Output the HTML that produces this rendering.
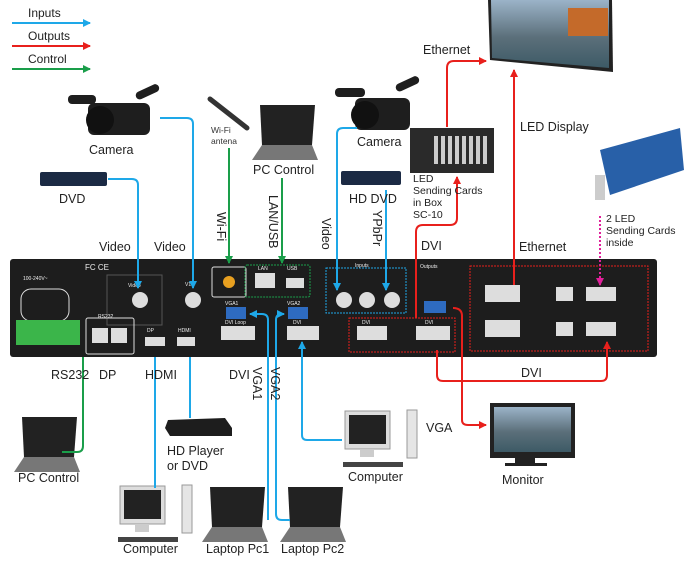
<!DOCTYPE html>
<html><head><meta charset="utf-8"><style>
html,body{margin:0;padding:0;background:#fff;}
svg{display:block;font-family:"Liberation Sans",sans-serif;}
</style></head><body>
<svg width="690" height="565" viewBox="0 0 690 565" xmlns="http://www.w3.org/2000/svg">
<defs>
<marker id="ab" markerWidth="8" markerHeight="8" refX="7" refY="4" orient="auto" markerUnits="userSpaceOnUse"><path d="M0,0 L8,4 L0,8z" fill="#1ea8e8"/></marker>
<marker id="ar" markerWidth="8" markerHeight="8" refX="7" refY="4" orient="auto" markerUnits="userSpaceOnUse"><path d="M0,0 L8,4 L0,8z" fill="#e8201c"/></marker>
<marker id="ag" markerWidth="8" markerHeight="8" refX="7" refY="4" orient="auto" markerUnits="userSpaceOnUse"><path d="M0,0 L8,4 L0,8z" fill="#1a9e4a"/></marker>
<marker id="ap" markerWidth="8" markerHeight="8" refX="7" refY="4" orient="auto" markerUnits="userSpaceOnUse"><path d="M0,0 L8,4 L0,8z" fill="#e0209a"/></marker>
<linearGradient id="sky" x1="0" y1="0" x2="0" y2="1"><stop offset="0" stop-color="#9bb3c8"/><stop offset="0.55" stop-color="#5b6f7a"/><stop offset="1" stop-color="#3d5a66"/></linearGradient>
</defs>
<g font-size="12" fill="#222">
<!-- legend -->
<text x="28" y="17">Inputs</text><text x="28" y="40">Outputs</text><text x="28" y="63">Control</text>
</g>
<g stroke-width="2" fill="none">
<line x1="12" y1="23" x2="90" y2="23" stroke="#1ea8e8" marker-end="url(#ab)"/>
<line x1="12" y1="46" x2="90" y2="46" stroke="#e8201c" marker-end="url(#ar)"/>
<line x1="12" y1="69" x2="90" y2="69" stroke="#1a9e4a" marker-end="url(#ag)"/>
</g>

<!-- cameras -->
<g fill="#1e1e1e">
<rect x="88" y="103" width="62" height="32" rx="6"/><rect x="68" y="95" width="28" height="9" rx="4"/><circle cx="100" cy="120" r="14" fill="#111"/><rect x="135" y="88" width="25" height="8" rx="4" transform="rotate(-25 147 92)"/>
<rect x="355" y="98" width="55" height="32" rx="6"/><rect x="335" y="88" width="30" height="9" rx="4"/><circle cx="365" cy="115" r="14" fill="#111"/><rect x="395" y="80" width="25" height="8" rx="4" transform="rotate(-25 407 84)"/>
</g>
<!-- DVDs -->
<rect x="40" y="172" width="67" height="14" rx="2" fill="#1b2a44"/>
<rect x="341" y="171" width="60" height="14" rx="2" fill="#1b2a44"/>
<!-- antenna -->
<line x1="210" y1="99" x2="247" y2="128" stroke="#333" stroke-width="5" stroke-linecap="round"/>
<!-- laptops -->
<g id="lap">
<polygon points="260,105 315,105 312,145 262,145" fill="#222"/>
<polygon points="262,145 312,145 318,160 252,160" fill="#777"/>
</g>
<use href="#lap" transform="translate(-238,312)"/>
<use href="#lap" transform="translate(-50,382)"/>
<use href="#lap" transform="translate(28,382)"/>
<!-- computers -->
<g id="comp">
<rect x="345" y="411" width="45" height="38" fill="#ddd" stroke="#999"/><rect x="349" y="415" width="37" height="29" fill="#222"/>
<rect x="360" y="449" width="14" height="8" fill="#ccc"/><rect x="407" y="410" width="10" height="48" fill="#e5e5e5" stroke="#999"/>
<rect x="343" y="462" width="60" height="5" fill="#444"/>
</g>
<use href="#comp" transform="translate(-225,75)"/>
<!-- HD player -->
<polygon points="168,420 225,418 232,428 232,436 170,436 165,428" fill="#1d1d1d"/>
<!-- monitor -->
<rect x="490" y="403" width="85" height="55" fill="#222"/><rect x="494" y="407" width="77" height="45" fill="url(#sky)"/><rect x="515" y="458" width="20" height="6" fill="#222"/><rect x="505" y="463" width="42" height="3" fill="#222"/>
<!-- LED display -->
<polygon points="488,0 612,0 613,72 490,60" fill="#222"/>
<polygon points="491,0 609,0 609,68 492,58" fill="url(#sky)"/>
<rect x="568" y="8" width="40" height="28" fill="#c46a2a"/>
<!-- sending box -->
<rect x="410" y="128" width="84" height="45" fill="#2a2a2a"/>
<g fill="#ccc"><rect x="434" y="136" width="4" height="28"/><rect x="441" y="136" width="4" height="28"/><rect x="448" y="136" width="4" height="28"/><rect x="455" y="136" width="4" height="28"/><rect x="462" y="136" width="4" height="28"/><rect x="469" y="136" width="4" height="28"/><rect x="476" y="136" width="4" height="28"/><rect x="483" y="136" width="4" height="28"/></g>
<!-- card -->
<polygon points="600,150 680,128 684,170 610,195" fill="#2860a8"/><rect x="595" y="175" width="10" height="25" fill="#ccc"/>

<!-- device -->
<rect x="10" y="259" width="647" height="98" rx="3" fill="#1d1d1d"/>
<g stroke="#ddd" fill="none" stroke-width="1">
<rect x="21" y="289" width="48" height="32" rx="10"/>
<rect x="107" y="275" width="55" height="50" stroke="#555"/>
<rect x="212" y="267" width="34" height="30" rx="2"/>
<rect x="245" y="265" width="65" height="32" rx="2" stroke="#1a9e4a" stroke-dasharray="2,1"/>
<rect x="326" y="268" width="80" height="45" stroke="#1ea8e8" stroke-dasharray="2,1"/>
<rect x="349" y="318" width="106" height="34" stroke="#e8201c" stroke-dasharray="2,1"/>
<rect x="470" y="266" width="178" height="85" stroke="#e8201c" stroke-dasharray="2,1"/>
<rect x="86" y="318" width="48" height="36" rx="2"/>
</g>
<rect x="16" y="320" width="64" height="25" fill="#3bb54a"/>
<g fill="#ddd">
<circle cx="140" cy="300" r="8"/><circle cx="193" cy="300" r="8"/>
<circle cx="344" cy="300" r="8"/><circle cx="367" cy="300" r="8"/><circle cx="392" cy="300" r="8"/>
<rect x="92" y="328" width="16" height="15"/><rect x="111" y="328" width="16" height="15"/>
<rect x="255" y="273" width="20" height="15"/><rect x="286" y="278" width="18" height="10"/>
<rect x="145" y="337" width="20" height="9"/><rect x="177" y="337" width="18" height="9"/>
<rect x="221" y="326" width="34" height="14"/><rect x="287" y="326" width="32" height="14"/>
<rect x="357" y="326" width="30" height="14"/><rect x="416" y="326" width="34" height="14"/>
<rect x="485" y="285" width="35" height="17"/><rect x="586" y="287" width="30" height="14"/>
<rect x="485" y="320" width="35" height="17"/><rect x="586" y="322" width="30" height="14"/>
<rect x="556" y="287" width="17" height="14"/><rect x="556" y="322" width="17" height="14"/>
</g>
<g fill="#2e6bc0"><rect x="226" y="307" width="20" height="12"/><rect x="288" y="307" width="20" height="12"/><rect x="424" y="301" width="22" height="12"/></g>
<circle cx="229" cy="282" r="6" fill="#e8a020"/>
<g fill="#eee" font-size="5"><text x="23" y="280">100-240V~</text><text x="128" y="287">Video</text><text x="185" y="286">V1</text><text x="225" y="305">VGA1</text><text x="287" y="305">VGA2</text><text x="258" y="270">LAN</text><text x="287" y="270">USB</text><text x="355" y="267">Inputs</text><text x="420" y="268">Outputs</text><text x="147" y="332">DP</text><text x="178" y="332">HDMI</text><text x="225" y="324">DVI Loop</text><text x="293" y="324">DVI</text><text x="362" y="324">DVI</text><text x="425" y="324">DVI</text><text x="98" y="318">RS232</text><text x="85" y="270" font-size="8">FC CE</text></g>

<!-- connectors -->
<g fill="none" stroke-width="2">
<path d="M160,118 H187 Q193,118 193,124 V288" stroke="#1ea8e8" marker-end="url(#ab)"/>
<path d="M108,179 H132 Q138,179 138,185 V288" stroke="#1ea8e8" marker-end="url(#ab)"/>
<path d="M229,148 V263" stroke="#1a9e4a" marker-end="url(#ag)"/>
<path d="M282,178 V263" stroke="#1a9e4a" marker-end="url(#ag)"/>
<path d="M357,128 H343 Q337,128 337,134 V290" stroke="#1ea8e8" marker-end="url(#ab)"/>
<path d="M386,190 V290" stroke="#1ea8e8" marker-end="url(#ab)"/>
<path d="M447,127 V68 Q447,61 454,61 H486" stroke="#e8201c" marker-end="url(#ar)"/>
<path d="M416,318 V232 Q416,225 423,225 H450 Q457,225 457,218 V177" stroke="#e8201c" marker-end="url(#ar)"/>
<path d="M514,285 V70" stroke="#e8201c" marker-end="url(#ar)"/>
<path d="M600,216 V285" stroke="#e0209a" stroke-dasharray="2,2" marker-end="url(#ap)"/>
<path d="M83,357 V446 Q83,452 77,452 H62" stroke="#1a9e4a"/>
<path d="M155,357 V488" stroke="#1ea8e8"/>
<path d="M190,357 V418" stroke="#1ea8e8"/>
<path d="M268,520 V320 Q268,314 262,314 H250" stroke="#1ea8e8" marker-end="url(#ab)"/>
<path d="M290,520 H282 Q276,520 276,514 V320 Q276,314 282,314 H284" stroke="#1ea8e8" marker-end="url(#ab)"/>
<path d="M342,440 H307 Q302,440 302,435 V342" stroke="#1ea8e8" marker-end="url(#ab)"/>
<path d="M437,350 V375 Q437,381 443,381 H601 Q607,381 607,375 V342" stroke="#e8201c" marker-end="url(#ar)"/>
<path d="M453,308 Q462,308 462,316 V420 Q462,425 468,425 H486" stroke="#e8201c" marker-end="url(#ar)"/>
</g>

<!-- labels -->
<g font-size="12.5" fill="#222">
<text x="89" y="154">Camera</text><text x="59" y="203">DVD</text>
<text x="99" y="251">Video</text><text x="154" y="251">Video</text>
<text x="253" y="174">PC Control</text>
<text x="357" y="146">Camera</text><text x="349" y="203">HD DVD</text>
<text x="423" y="54">Ethernet</text>
<text x="520" y="131">LED Display</text>
<text x="519" y="251">Ethernet</text>
<text x="421" y="250">DVI</text>
<text x="51" y="379">RS232</text><text x="99" y="379">DP</text><text x="145" y="379">HDMI</text><text x="229" y="379">DVI</text>
<text x="521" y="377">DVI</text><text x="426" y="432">VGA</text>
<text x="167" y="455">HD Player</text><text x="167" y="470">or DVD</text>
<text x="18" y="482">PC Control</text>
<text x="348" y="481">Computer</text><text x="502" y="484">Monitor</text>
<text x="123" y="553">Computer</text><text x="206" y="553">Laptop Pc1</text><text x="281" y="553">Laptop Pc2</text>
<text transform="translate(217,212) rotate(90)">Wi-Fi</text>
<text transform="translate(269,195) rotate(90)">LAN/USB</text>
<text transform="translate(322,218) rotate(90)">Video</text>
<text transform="translate(373,210) rotate(90)">YPbPr</text>
<text transform="translate(253,367) rotate(90)">VGA1</text>
<text transform="translate(271,367) rotate(90)">VGA2</text>
</g>
<g font-size="10.5" fill="#222">
<text x="413" y="182">LED</text><text x="413" y="194">Sending Cards</text><text x="413" y="206">in Box</text><text x="413" y="218">SC-10</text>
<text x="606" y="222">2 LED</text><text x="606" y="234">Sending Cards</text><text x="606" y="246">inside</text>
</g>
<g font-size="8.5" fill="#333"><text x="211" y="133">Wi-Fi</text><text x="211" y="144">antena</text></g>
</svg>
</body></html>
